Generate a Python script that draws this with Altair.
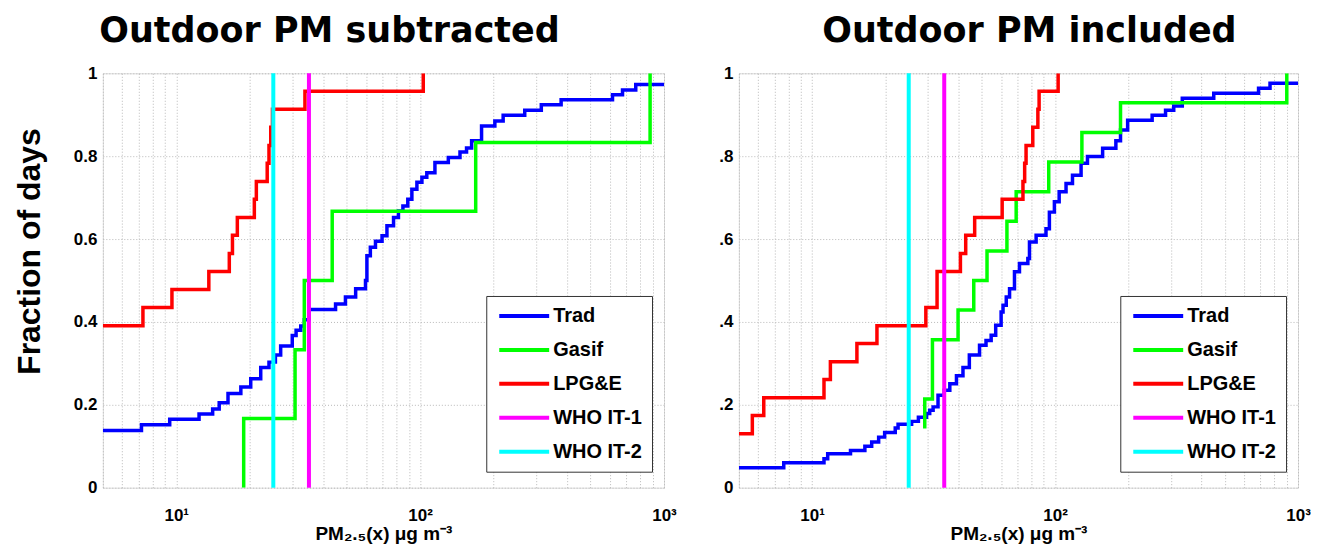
import altair as alt
import pandas as pd

SERIES = ["Trad", "Gasif", "LPG&E", "WHO IT-1", "WHO IT-2"]
COLORS = ["#0000ff", "#00ff00", "#ff0000", "#ff00ff", "#00ffff"]
WHO_X = [35, 25]  # WHO IT-1, WHO IT-2

# ---------- Left panel: Outdoor PM subtracted ----------
sub_trad_x = [5, 7.2, 9.4, 12.4, 14.1, 15.0, 16.3, 18.4, 20.2, 22.2, 24.0, 25.5, 26.8, 29.9, 31.0,
              32.4, 33.5, 35, 45, 49.4, 54.4, 59.7, 60.5, 62.5, 65.6, 69.8, 73.1, 77.8, 81.5, 85,
              89, 92.5, 97, 101.7, 106.5, 115, 130.5, 145.7, 155, 162.6, 178.6, 202.5, 219,
              268.5, 314, 378.6, 615, 676, 766, 1000]
sub_trad_y = [0.138, 0.152, 0.165, 0.178, 0.19, 0.205, 0.227, 0.243, 0.263, 0.29, 0.303, 0.32, 0.342,
              0.367, 0.38, 0.39, 0.405, 0.43, 0.443, 0.46, 0.48, 0.5, 0.56, 0.58, 0.595, 0.608, 0.632,
              0.652, 0.668, 0.68, 0.696, 0.72, 0.737, 0.749, 0.76, 0.785, 0.797, 0.81, 0.82, 0.837,
              0.873, 0.885, 0.899, 0.911, 0.924, 0.936, 0.948, 0.96, 0.973, 0.973]
sub_gasif_x = [18.9, 18.9, 30.7, 33.5, 43.6, 169, 877]
sub_gasif_y = [0, 0.167, 0.333, 0.5, 0.667, 0.833, 1.0]
sub_lpg_x = [5, 7.3, 9.6, 13.6, 16.5, 17.0, 17.8, 20.9, 21.3, 23.6, 24.0, 24.4, 24.8, 33.7, 103]
sub_lpg_y = [0.391, 0.435, 0.478, 0.522, 0.565, 0.609, 0.652, 0.696, 0.739, 0.783, 0.826, 0.870,
             0.913, 0.957, 1.0]

# ---------- Right panel: Outdoor PM included ----------
inc_trad_x = [5, 7.65, 11.2, 11.6, 14.4, 16.5, 17.6, 18.8, 19.9, 22, 22.6, 25.7, 27.4, 29.6, 30.5,
              31.5, 33, 35, 36.9, 39.3, 41.8, 44.4, 48.9, 52, 54.6, 57, 60, 61.1, 63, 65, 68.1,
              71.4, 77.3, 78.5, 83.6, 91.8, 94.8, 99.4, 104, 111, 118, 128, 136, 157, 178, 186,
              199, 251, 285, 308, 334, 450, 688, 767, 1000]
inc_trad_y = [0.048, 0.06, 0.07, 0.082, 0.09, 0.1, 0.11, 0.122, 0.133, 0.144, 0.153, 0.16, 0.17,
              0.179, 0.187, 0.195, 0.223, 0.235, 0.251, 0.27, 0.29, 0.32, 0.344, 0.355, 0.368,
              0.392, 0.424, 0.44, 0.46, 0.48, 0.521, 0.541, 0.553, 0.593, 0.609, 0.625, 0.665,
              0.69, 0.714, 0.734, 0.754, 0.783, 0.799, 0.819, 0.837, 0.863, 0.887, 0.899, 0.911,
              0.921, 0.94, 0.952, 0.964, 0.976, 0.976]
inc_gasif_x = [29.1, 29.1, 31.3, 39.9, 46.3, 52.5, 63.4, 69.2, 94.2, 129, 186, 899]
inc_gasif_y = [0.143, 0.214, 0.357, 0.429, 0.5, 0.571, 0.643, 0.714, 0.786, 0.857, 0.929, 1.0]
inc_lpg_x = [5, 5.68, 6.33, 11.2, 11.9, 15.3, 18.5, 29.4, 32.7, 32.7, 40.8, 42.9, 46.7, 60.6,
             73.8, 75, 76, 81, 85, 86, 103]
inc_lpg_y = [0.130, 0.174, 0.217, 0.261, 0.304, 0.348, 0.391, 0.435, 0.478, 0.522, 0.565, 0.609,
             0.652, 0.696, 0.739, 0.783, 0.826, 0.870, 0.913, 0.957, 1.0]

X_GRID = [5, 6, 7, 8, 9, 10, 20, 30, 40, 50, 60, 70, 80, 90, 100, 200, 300, 400, 500, 600, 700,
          800, 900, 1000]
Y_TICKS = [0, 0.2, 0.4, 0.6, 0.8, 1.0]

LABEL_FONT = "Liberation Sans"


def series_df(name, xs, ys):
    return pd.DataFrame({"x": xs, "y": ys, "series": name, "idx": list(range(len(xs)))})


def panel(trad, gasif, lpg, title, dx, ylab_expr, ytitle, width, legend_x):
    df = pd.concat([series_df("Trad", *trad), series_df("Gasif", *gasif),
                    series_df("LPG&E", *lpg)], ignore_index=True)
    who = pd.DataFrame({"x": WHO_X, "series": ["WHO IT-1", "WHO IT-2"]})

    xscale = alt.Scale(type="log", domain=[5, 1000], nice=False)
    yscale = alt.Scale(domain=[0, 1], nice=False)
    xaxis = alt.Axis(
        values=X_GRID,
        labelExpr="datum.value == 10 ? '10\u00b9' : datum.value == 100 ? '10\u00b2' : datum.value == 1000 ? '10\u00b3' : ''",
        labelOverlap=False, labelFlush=False, ticks=False, domain=False,
        grid=True, gridColor="#b8b8b8", gridDash=[1, 2], gridWidth=1,
        labelFont=LABEL_FONT, labelFontWeight="bold", labelFontSize=17, labelColor="black",
        labelPadding=20,
        title="PM\u2082.\u2085(x) \u03bcg m\u207b\u00b3", titleFont=LABEL_FONT, titleFontWeight="bold",
        titleFontSize=19, titleColor="black", titleY=52, titleBaseline="alphabetic",
    )
    yaxis_kw = dict(
        values=Y_TICKS, labelExpr=ylab_expr, ticks=False, domain=False,
        grid=True, gridColor="#b8b8b8", gridDash=[1, 2], gridWidth=1,
        labelFont=LABEL_FONT, labelFontWeight="bold", labelFontSize=17, labelColor="black",
        labelPadding=6,
    )
    if ytitle:
        yaxis = alt.Axis(title=ytitle, titleFont=LABEL_FONT, titleFontWeight="bold",
                         titleFontSize=32, titleColor="black", titleX=-73, titleY=178,
                         titleAlign="center", titleBaseline="middle", titleAngle=270, **yaxis_kw)
    else:
        yaxis = alt.Axis(title=None, **yaxis_kw)

    legend = alt.Legend(
        title=None, orient="none", legendX=legend_x, legendY=223,
        strokeColor="#333333", fillColor="white", padding=10,
        symbolType="M-3.571,0H3.571", symbolSize=196, symbolStrokeWidth=4,
        symbolOffset=18, labelOffset=19, rowPadding=14,
        labelFont=LABEL_FONT, labelFontWeight="bold", labelFontSize=20, labelColor="black",
    )
    color = alt.Color("series:N", scale=alt.Scale(domain=SERIES, range=COLORS),
                      sort=SERIES, legend=legend)

    lines = alt.Chart(df).mark_line(interpolate="step-after", strokeWidth=3.5, clip=True).encode(
        x=alt.X("x:Q", scale=xscale, axis=xaxis),
        y=alt.Y("y:Q", scale=yscale, axis=yaxis),
        color=color,
        order=alt.Order("idx:Q"),
    )
    rules = alt.Chart(who).mark_rule(strokeWidth=4).encode(
        x=alt.X("x:Q", scale=xscale),
        color=color,
    )
    return alt.layer(lines, rules).properties(
        width=width, height=415,
        title=alt.TitleParams(title, font="DejaVu Sans", fontWeight="bold", fontSize=35, color="black",
                              anchor="middle", frame="group", dx=dx, offset=-20,
                              baseline="bottom"),
    )


left = panel((sub_trad_x, sub_trad_y), (sub_gasif_x, sub_gasif_y), (sub_lpg_x, sub_lpg_y),
             "Outdoor PM subtracted", -54,
             "datum.value == 0 ? '0' : datum.value == 1 ? '1' : format(datum.value, '.1f')",
             "Fraction of days", 562, 384)
right = panel((inc_trad_x, inc_trad_y), (inc_gasif_x, inc_gasif_y), (inc_lpg_x, inc_lpg_y),
              "Outdoor PM included", 11,
              "datum.value == 0 ? '0' : datum.value == 1 ? '1' : '.' + format(datum.value * 10, '.0f')",
              None, 560, 382)

chart = alt.hconcat(left, right, spacing=41).resolve_scale(color="independent").resolve_legend(
    color="independent"
).properties(
    padding={"left": 5, "top": 5, "right": 0, "bottom": 0}
).configure_view(stroke="#6e6e6e", strokeWidth=1.2).configure(background="white")

chart.save("out.html", embed_options={"renderer": "svg", "actions": False})
